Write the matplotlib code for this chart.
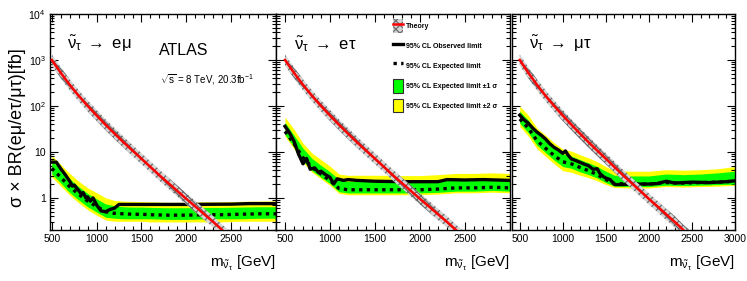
import matplotlib
matplotlib.use("Agg")
import matplotlib.pyplot as plt
from matplotlib.lines import Line2D
from matplotlib.patches import Patch
from matplotlib.ticker import FixedLocator, MultipleLocator, LogLocator, NullFormatter

plt.rcParams["font.family"] = ["Liberation Sans", "DejaVu Sans"]
plt.rcParams["mathtext.fontset"] = "custom"
plt.rcParams["mathtext.rm"] = "Liberation Sans"
plt.rcParams["mathtext.it"] = "Liberation Sans:italic"
plt.rcParams["mathtext.bf"] = "Liberation Sans:bold"
plt.rcParams["hatch.linewidth"] = 0.9

# ---- theory (same curve in every channel) ----
theory_m = [500, 600, 700, 800, 900, 1000, 1100, 1200, 1300, 1400, 1500, 1600, 1700,
            1800, 1900, 2000, 2100, 2200, 2300, 2400, 2500, 2600]
theory = [1000, 525, 288, 166, 100, 62, 39, 25, 16.2, 10.7, 7.1, 4.7, 3.1,
          2.09, 1.41, 0.95, 0.65, 0.44, 0.3, 0.2, 0.135, 0.091]
theory_lo = [760, 400, 219, 126, 76, 47, 29.6, 19, 12.3, 8.1, 5.4, 3.6, 2.36,
             1.59, 1.07, 0.72, 0.49, 0.33, 0.23, 0.15, 0.1, 0.069]
theory_hi = [1320, 690, 380, 219, 132, 82, 51, 33, 21.4, 14.1, 9.4, 6.2, 4.1,
             2.76, 1.86, 1.25, 0.86, 0.58, 0.4, 0.26, 0.18, 0.12]

# ---- expected limit and bands, common mass grid ----
mass = [500, 600, 700, 800, 900, 1000, 1100, 1200, 1300, 1400, 1500, 1600,
        1800, 2000, 2200, 2400, 2600, 2800, 3000]

emu_exp = [4.4, 2.8, 1.75, 1.2, 0.85, 0.65, 0.5, 0.46, 0.45, 0.44, 0.44, 0.43,
           0.42, 0.42, 0.43, 0.43, 0.44, 0.45, 0.45]
emu_g_hi = [6.4, 4.1, 2.6, 1.75, 1.25, 0.95, 0.74, 0.67, 0.64, 0.63, 0.63, 0.62,
            0.61, 0.61, 0.62, 0.62, 0.63, 0.64, 0.64]
emu_g_lo = [3.3, 2.1, 1.3, 0.9, 0.64, 0.49, 0.38, 0.36, 0.35, 0.35, 0.35, 0.35,
            0.34, 0.34, 0.35, 0.35, 0.35, 0.36, 0.36]
emu_y_hi = [8.4, 5.3, 3.4, 2.3, 1.65, 1.3, 1.0, 0.88, 0.85, 0.84, 0.83, 0.82,
            0.8, 0.8, 0.82, 0.82, 0.84, 0.85, 0.86]
emu_y_lo = [2.85, 1.8, 1.15, 0.78, 0.55, 0.42, 0.33, 0.31, 0.31, 0.31, 0.31, 0.3,
            0.3, 0.3, 0.3, 0.3, 0.31, 0.31, 0.31]

etau_exp = [28, 15, 7.5, 4.6, 3.3, 2.4, 1.6, 1.5, 1.5, 1.5, 1.5, 1.5,
            1.5, 1.5, 1.55, 1.65, 1.65, 1.7, 1.65]
etau_g_hi = [44, 23, 12, 7.2, 5.1, 3.7, 2.5, 2.3, 2.3, 2.3, 2.3, 2.3,
             2.3, 2.3, 2.4, 2.55, 2.55, 2.6, 2.55]
etau_g_lo = [23.8, 12.8, 6.4, 3.9, 2.8, 2.05, 1.36, 1.28, 1.28, 1.28, 1.28, 1.28,
             1.28, 1.28, 1.32, 1.4, 1.4, 1.45, 1.4]
etau_y_hi = [57, 31, 15.4, 9.4, 6.8, 4.9, 3.3, 3.1, 3.1, 3.1, 3.1, 3.1,
             3.05, 3.05, 3.2, 3.4, 3.4, 3.5, 3.4]
etau_y_lo = [21.8, 11.7, 5.85, 3.6, 2.6, 1.87, 1.25, 1.17, 1.17, 1.17, 1.17, 1.17,
             1.17, 1.17, 1.21, 1.29, 1.29, 1.33, 1.29]

mutau_exp = [52, 33, 17.5, 12, 8.3, 6.1, 5.5, 4.6, 3.9, 3.2, 2.5, 2.05,
             2.0, 2.0, 2.15, 2.1, 2.15, 2.2, 2.3]
mutau_g_hi = [77, 49, 26, 17.8, 12.3, 9.0, 8.1, 6.8, 5.8, 4.8, 3.8, 3.1,
              3.0, 3.0, 3.3, 3.2, 3.3, 3.5, 3.8]
mutau_g_lo = [42, 26, 14, 9.6, 6.6, 4.8, 4.4, 3.7, 3.2, 2.7, 2.15, 1.8,
              1.76, 1.76, 1.89, 1.85, 1.89, 1.94, 2.0]
mutau_y_hi = [99, 63, 33, 23, 15.8, 11.5, 10.4, 8.7, 7.4, 6.1, 4.8, 3.9,
              3.8, 3.8, 4.1, 4.0, 4.1, 4.3, 4.8]
mutau_y_lo = [36, 22, 11.7, 8.0, 5.5, 3.9, 3.6, 3.1, 2.75, 2.35, 1.95, 1.68,
              1.64, 1.64, 1.76, 1.72, 1.76, 1.8, 1.88]

# ---- observed limits ----
emu_obs_m = [500, 550, 600, 650, 700, 730, 750, 800, 830, 850, 880, 900, 930, 960,
             1000, 1050, 1100, 1150, 1200, 1250, 1300, 1500, 2000, 2500, 2700, 3000]
emu_obs = [6.0, 6.0, 4.3, 3.2, 2.3, 1.8, 1.9, 1.45, 1.2, 1.3, 1.0, 1.05, 0.85, 1.0,
           0.7, 0.52, 0.5, 0.56, 0.6, 0.72, 0.72, 0.72, 0.72, 0.73, 0.75, 0.75]

etau_obs_m = [500, 550, 600, 650, 700, 740, 780, 830, 870, 900, 950, 1000, 1040, 1080,
              1150, 1200, 1300, 1500, 1800, 2000, 2200, 2300, 2500, 2700, 3000]
etau_obs = [36, 26, 17, 9, 5.5, 7.2, 4.2, 4.5, 3.6, 3.8, 3.2, 2.8, 2.0, 2.6,
            2.4, 2.5, 2.4, 2.3, 2.25, 2.25, 2.25, 2.5, 2.45, 2.5, 2.4]

mutau_obs_m = [500, 550, 600, 650, 700, 750, 800, 850, 900, 950, 1000, 1030, 1060, 1100,
               1150, 1250, 1300, 1350, 1400, 1430, 1470, 1500, 1550, 1600, 1700, 1800,
               2000, 2100, 2200, 2300, 2500, 2700, 2900, 3000]
mutau_obs = [63, 50, 42, 33, 27, 23, 19, 15, 12.5, 11, 9.3, 10.5, 8.6, 7.0,
             6.5, 5.4, 5.0, 4.2, 4.3, 3.4, 2.9, 2.7, 2.5, 1.95, 1.95, 2.0,
             2.0, 2.05, 2.3, 2.1, 2.2, 2.15, 2.25, 2.35]

channels = [
    (r"$\tilde{\mathrm{\nu}}_{\mathrm{\tau}}$ $\rightarrow$ e$\mathrm{\mu}$",
     emu_exp, emu_g_lo, emu_g_hi, emu_y_lo, emu_y_hi, emu_obs_m, emu_obs),
    (r"$\tilde{\mathrm{\nu}}_{\mathrm{\tau}}$ $\rightarrow$ e$\mathrm{\tau}$",
     etau_exp, etau_g_lo, etau_g_hi, etau_y_lo, etau_y_hi, etau_obs_m, etau_obs),
    (r"$\tilde{\mathrm{\nu}}_{\mathrm{\tau}}$ $\rightarrow$ $\mathrm{\mu\tau}$",
     mutau_exp, mutau_g_lo, mutau_g_hi, mutau_y_lo, mutau_y_hi, mutau_obs_m, mutau_obs),
]

W, Hh = 747, 281
# panel boxes in pixels: (left, right), plus x range of each panel
boxes = [(50, 276), (276, 510), (512, 735)]
xlims = [(480, 3000), (400, 3000), (410, 3000)]
top_px, bot_px = 14, 230

fig = plt.figure(figsize=(W / 100, Hh / 100), dpi=100)
GREEN = "#00ff00"
YELLOW = "#ffff00"
HATCH_FC = "#d4d4d4"
HATCH_EC = "#6a6a6a"

for i, ((l, r), xl, ch) in enumerate(zip(boxes, xlims, channels)):
    title, exp, g_lo, g_hi, y_lo, y_hi, obs_m, obs = ch
    ax = fig.add_axes([l / W, (Hh - bot_px) / Hh, (r - l) / W, (bot_px - top_px) / Hh])
    ax.set_yscale("log")
    ax.fill_between(mass, y_lo, y_hi, color=YELLOW, lw=0, zorder=1)
    ax.fill_between(mass, g_lo, g_hi, color=GREEN, lw=0, zorder=2)
    ax.plot(mass, exp, color="black", lw=2.4, ls=(0, (1.0, 1.3)), zorder=3)
    ax.plot(obs_m, obs, color="black", lw=2.4, zorder=4)
    ax.fill_between(theory_m, theory_lo, theory_hi, facecolor=HATCH_FC, edgecolor=HATCH_EC,
                    hatch="xxxx", lw=0, zorder=5)
    ax.plot(theory_m, theory, color="#ff0000", lw=1.8, zorder=6)

    ax.set_xlim(*xl)
    ax.set_ylim(0.2, 1e4)
    ax.xaxis.set_major_locator(FixedLocator([500, 1000, 1500, 2000, 2500, 3000]))
    ax.xaxis.set_minor_locator(MultipleLocator(100))
    if i < 2:
        ax.set_xticklabels(["500", "1000", "1500", "2000", "2500", ""])
    ax.yaxis.set_major_locator(FixedLocator([1, 10, 100, 1000, 10000]))
    ax.yaxis.set_minor_locator(LogLocator(base=10, subs=range(2, 10), numticks=20))
    ax.yaxis.set_minor_formatter(NullFormatter())
    if i == 0:
        ax.set_yticklabels(["1", "10", r"10$^{2}$", r"10$^{3}$", r"10$^{4}$"])
    else:
        ax.set_yticklabels([])
    ax.tick_params(which="both", direction="in", top=True, right=True, labelsize=7.5,
                   width=0.8, pad=3)
    ax.tick_params(which="major", length=6)
    ax.tick_params(which="minor", length=3)
    for s in ax.spines.values():
        s.set_linewidth(1.0)

    ax.text(0.075, 0.86, title, transform=ax.transAxes, fontsize=12, va="center")
    ax.text(1.0, -0.155, r"m$_{\tilde{\mathrm{\nu}}_{\mathrm{\tau}}}$ [GeV]",
            transform=ax.transAxes, fontsize=11, ha="right", va="center")

    if i == 0:
        ax.text(0.48, 0.833, "ATLAS", transform=ax.transAxes, fontsize=11.5, va="center")
        ax.text(0.487, 0.694, r"$\sqrt{\mathrm{s}}$ = 8 TeV, 20.3fb$^{-1}$",
                transform=ax.transAxes, fontsize=7, va="center")
    if i == 1:
        th_h = (Patch(facecolor=HATCH_FC, edgecolor=HATCH_EC, hatch="xxxx", lw=0),
                Line2D([], [], color="#ff0000", lw=1.8))
        handles = [th_h,
                   Line2D([], [], color="black", lw=2.4),
                   Line2D([], [], color="black", lw=2.4, ls=(0, (1.0, 1.3))),
                   Patch(facecolor=GREEN, edgecolor="#303030", lw=0.8),
                   Patch(facecolor=YELLOW, edgecolor="#303030", lw=0.8)]
        labels = ["Theory", "95% CL Observed limit", "95% CL Expected limit",
                  "95% CL Expected limit \u00b11 \u03c3", "95% CL Expected limit \u00b12 \u03c3"]
        ax.legend(handles, labels, loc="upper left", bbox_to_anchor=(0.5, 0.975),
                  frameon=False, prop={"size": 5, "weight": "bold"}, handlelength=1.5,
                  handleheight=2.7, labelspacing=0.85, handletextpad=0.4,
                  borderpad=0, borderaxespad=0)

fig.text(18 / W, 1 - 128 / Hh, "\u03c3 \u00d7 BR(e\u03bc/e\u03c4/\u03bc\u03c4)[fb]",
         rotation=90, fontsize=13, ha="center", va="center")

fig.savefig("out.png", dpi=100)
